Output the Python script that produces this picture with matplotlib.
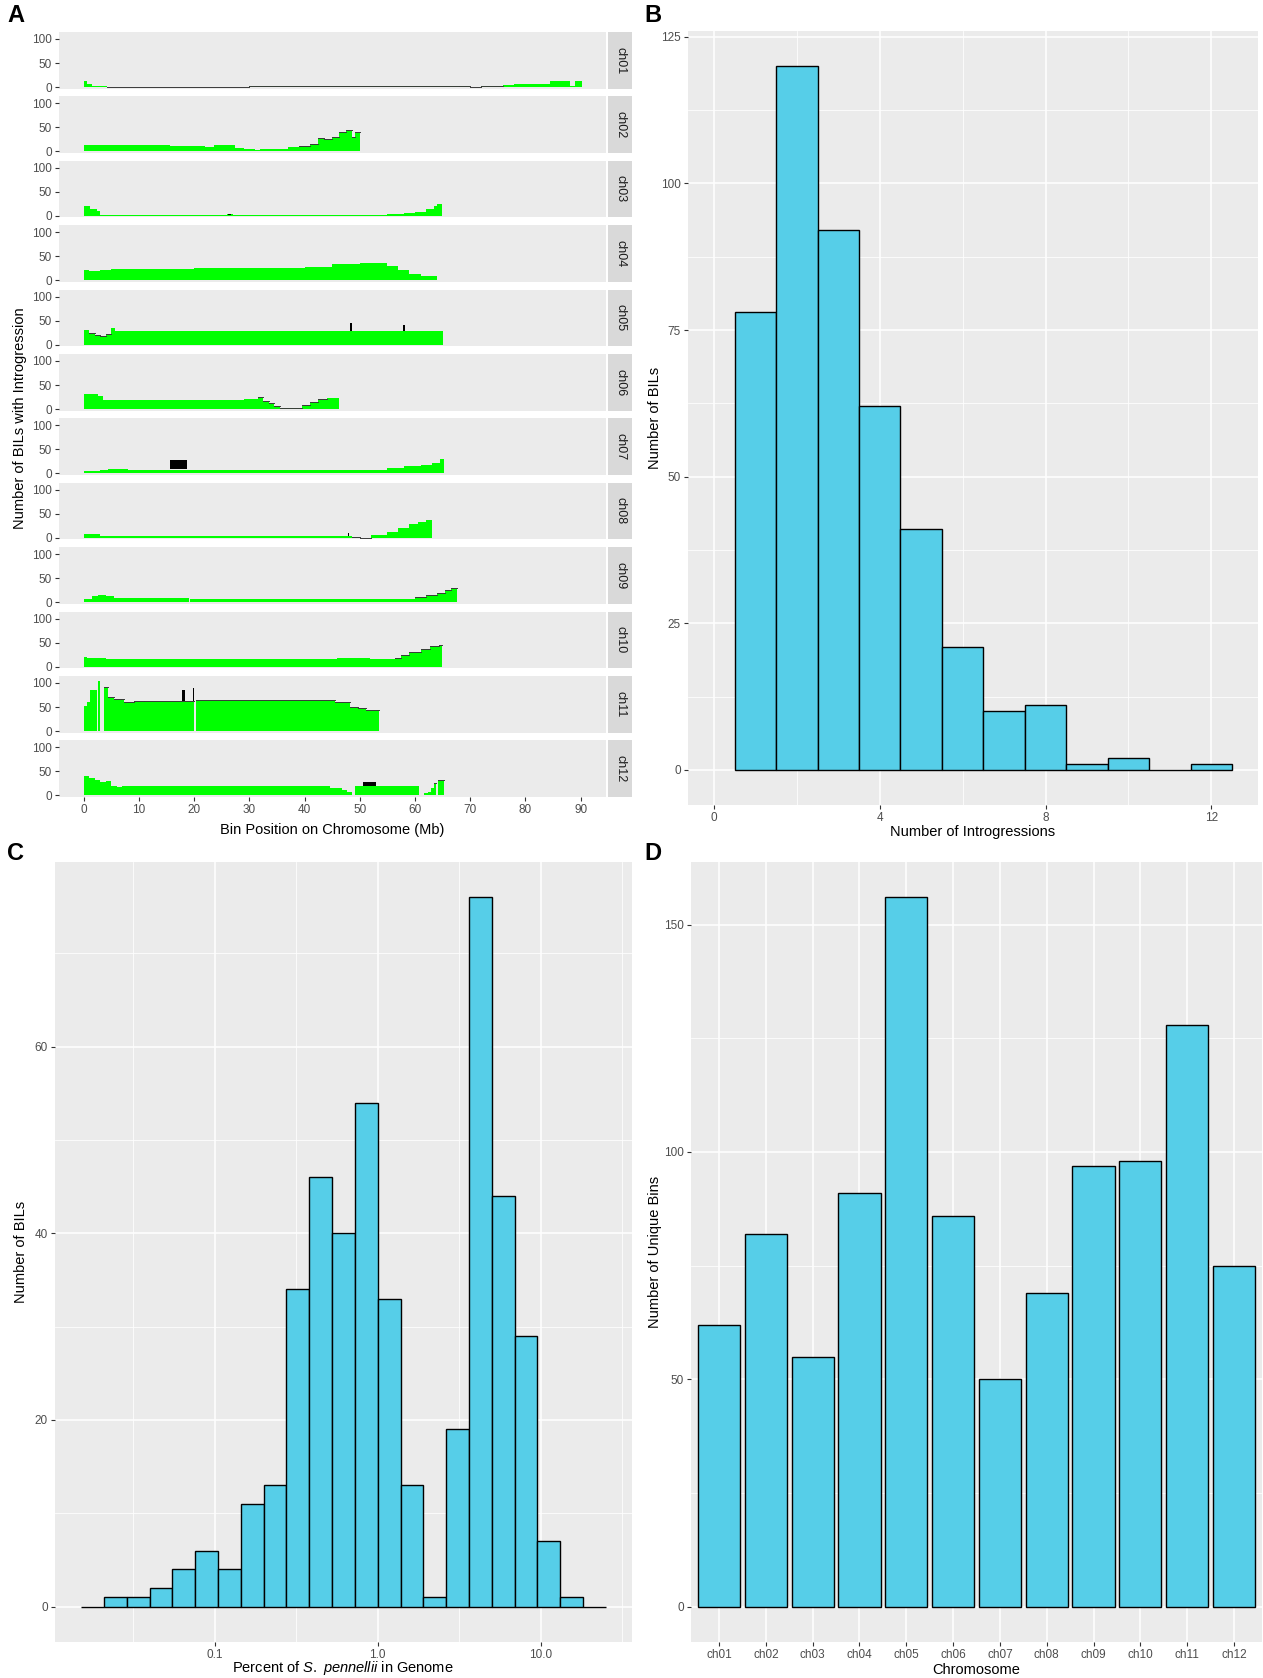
import numpy as np
import matplotlib as mpl
mpl.use('Agg')
from matplotlib import pyplot as plt

#%% Data
# panel A: (start Mb, end Mb, number of BILs)
ch01 = [(0, 0.5, 12), (0.5, 1.5, 7), (1.5, 4.2, 3), (4.2, 30, 1), (30, 68, 1.5), (68, 70, 2.5),
        (70, 72, 1), (72, 76, 1.5), (76, 78, 4), (78, 80, 6), (80, 83.5, 6), (83.5, 84.5, 7),
        (84.5, 86.5, 13), (86.5, 88, 12), (88, 89, 3), (89, 90.3, 13)]
ch02 = [(0, 15.7, 13), (15.7, 22, 11), (22, 23.6, 10), (23.6, 27.4, 13), (27.4, 29, 8), (29, 31, 6),
        (31, 32, 2), (32, 35, 5), (35, 37, 6), (37, 39, 9), (39, 41, 12), (41, 42.5, 15),
        (42.5, 43.5, 28), (43.5, 45, 25), (45, 46.3, 30), (46.3, 47.5, 40), (47.5, 48.6, 44),
        (48.6, 49.2, 30), (49.2, 50, 41)]
ch03 = [(0, 1.2, 20), (1.2, 2.4, 15), (2.4, 3, 10), (3, 26, 2), (26, 27, 3), (27, 55, 2),
        (55, 58, 3), (58, 60, 5), (60, 62, 9), (62, 63.5, 15), (63.5, 64, 20), (64, 64.8, 24)]
ch04 = [(0, 1, 22), (1, 3, 19), (3, 5, 21), (5, 20, 24), (20, 40, 25), (40, 45, 28), (45, 50, 33),
        (50, 55, 35), (55, 57, 30), (57, 59, 22), (59, 61, 14), (61, 64, 9)]
ch05 = [(0, 1, 30), (1, 2, 25), (2, 3, 21), (3, 4, 17), (4, 5, 22), (5, 5.6, 35), (5.6, 65, 29)]
ch06 = [(0, 2.5, 32), (2.5, 3.5, 28), (3.5, 29, 18), (29, 31.5, 20), (31.5, 32.5, 26),
        (32.5, 33.5, 17), (33.5, 34.5, 12), (34.5, 35.5, 6), (35.5, 39.5, 3), (39.5, 41, 8),
        (41, 42.5, 14), (42.5, 44, 20), (44, 46.2, 22)]
ch07 = [(0, 3, 5), (3, 4.3, 7), (4.3, 8, 10), (8, 55, 8), (55, 58, 12), (58, 61, 15), (61, 63, 18),
        (63, 64.5, 22), (64.5, 65.3, 31)]
ch08 = [(0, 3, 8), (3, 48.5, 3), (48.5, 50, 1), (50, 52, 0.5), (52, 55, 6), (55, 57, 12),
        (57, 59, 20), (59, 60.5, 28), (60.5, 62, 33), (62, 63.1, 38)]
ch09 = [(0, 1.5, 6), (1.5, 2.5, 12), (2.5, 4, 15), (4, 5.5, 12), (5.5, 19, 8), (19.3, 60, 6),
        (60, 62, 10), (62, 64, 15), (64, 65.5, 20), (65.5, 66.5, 25), (66.5, 67.6, 30)]
ch10 = [(0, 0.5, 21), (0.5, 4, 17), (4, 45.9, 16), (45.9, 51.9, 18), (51.9, 52.8, 16),
        (52.8, 56.4, 15), (56.4, 57.5, 18), (57.5, 59, 24), (59, 61, 30), (61, 62.7, 37),
        (62.7, 64.3, 44), (64.3, 64.9, 45)]
ch11 = [(0, 0.6, 53), (0.6, 1.2, 60), (1.2, 2.4, 85), (2.6, 3.0, 104), (3.6, 4.3, 92),
        (4.3, 5.5, 70), (5.5, 6.7, 67), (6.7, 7.3, 66), (7.3, 9.1, 60), (9.1, 10.9, 62),
        (10.9, 20.0, 63), (20.4, 45.5, 64), (45.5, 48.2, 60), (48.2, 49.7, 50), (49.7, 51.2, 48),
        (51.2, 53.4, 43)]
ch12 = [(0, 1, 40), (1, 2, 37), (2, 3, 33), (3, 4, 27), (4, 5, 30), (5, 6, 20), (6, 7, 18),
        (7, 44.6, 19), (44.6, 46.7, 16), (46.7, 47.6, 12), (47.6, 48.5, 8), (49.1, 60.8, 19),
        (61.7, 62.3, 5), (62.3, 62.9, 8), (62.9, 63.4, 15), (63.4, 63.8, 25), (64.1, 65.3, 33)]
chrom_names = ['ch01', 'ch02', 'ch03', 'ch04', 'ch05', 'ch06',
               'ch07', 'ch08', 'ch09', 'ch10', 'ch11', 'ch12']
chrom_data = [ch01, ch02, ch03, ch04, ch05, ch06, ch07, ch08, ch09, ch10, ch11, ch12]
# black bins (chrom, start, end, bottom, top)
black_bins = [('ch03', 26.2, 26.6, 2, 4), ('ch05', 48.3, 48.6, 29, 45), ('ch05', 57.8, 58.1, 29, 40),
              ('ch07', 15.7, 18.6, 9, 28), ('ch08', 47.8, 48.1, 3, 10),
              ('ch11', 17.8, 18.3, 63, 85), ('ch11', 19.8, 20.0, 63, 90), ('ch12', 50.6, 53.0, 20, 29)]
# stretches where the bin tops show a dark outline
outlined = {'ch01': (4.2, 76), 'ch02': (39, 50), 'ch05': (0.5, 5.5), 'ch06': (31, 45),
            'ch08': (48, 52), 'ch09': (60, 67.6), 'ch10': (56, 65), 'ch11': (3, 53.4),
            'ch12': (63, 65.3)}

# panel B
n_introgressions = [1, 2, 3, 4, 5, 6, 7, 8, 9, 10, 11, 12]
n_bils_intro = [78, 120, 92, 62, 41, 21, 10, 11, 1, 2, 0, 1]

# panel C: log10 bins
pct_bin_start = -1.82
pct_bin_width = 0.14
pct_counts = [0, 1, 1, 2, 4, 6, 4, 11, 13, 34, 46, 40, 54, 33, 13, 1, 19, 76, 44, 29, 7, 1, 0]

# panel D
unique_bins = [62, 82, 55, 91, 156, 86, 50, 69, 97, 98, 128, 75]

#%% Layout helpers
W, H = 1263, 1678
BLUE = '#56CEE8'
fig = plt.figure(figsize=(W / 100, H / 100), dpi=100)
plt.rcParams['font.family'] = ['Liberation Sans', 'DejaVu Sans']
plt.rcParams['mathtext.fontset'] = 'custom'
plt.rcParams['mathtext.rm'] = 'Liberation Sans'
plt.rcParams['mathtext.it'] = 'Liberation Sans:italic'


def box(l, t, r, b):
    return [l / W, 1 - b / H, (r - l) / W, (b - t) / H]


def ptext(x, y, s, **kw):
    fig.text(x / W, 1 - y / H, s, **kw)


def gg(ax, grid=True):
    ax.set_facecolor('#EBEBEB')
    for sp in ax.spines.values():
        sp.set_visible(False)
    ax.tick_params(which='major', color='#333333', labelcolor='#4D4D4D', length=3, width=0.8,
                   labelsize=8.5, pad=2)
    ax.tick_params(which='minor', length=0)
    if grid:
        ax.grid(which='major', color='white', lw=1.1)
        ax.grid(which='minor', color='white', lw=0.55)
    ax.set_axisbelow(True)


#%% Panel A
for i, (name, segs) in enumerate(zip(chrom_names, chrom_data)):
    top = 32 + i * 64.4
    ax = fig.add_axes(box(59, top, 606, top + 56.5))
    gg(ax, grid=False)
    starts = [s for s, e, n in segs]
    widths = [e - s for s, e, n in segs]
    counts = [n for s, e, n in segs]
    ax.bar(starts, counts, width=widths, align='edge', color='#00FF00', linewidth=0)
    if name in outlined:
        lo, hi = outlined[name]
        for s, e, n in segs:
            if s >= lo - 0.01 and e <= hi + 0.01:
                ax.plot([s, e], [n, n], color='#3A3A3A', lw=0.7)
    for c, s, e, b, t in black_bins:
        if c == name:
            ax.bar(s, t - b, width=e - s, bottom=b, align='edge', color='black', linewidth=0)
    ax.set_xlim(-4.5, 94.6)
    ax.set_ylim(-3, 114.5)
    ax.set_yticks([0, 50, 100])
    ax.set_xticks(range(0, 100, 10))
    if i < 11:
        ax.tick_params(axis='x', length=0, labelbottom=False)
    sax = fig.add_axes(box(608, top, 632, top + 56.5))
    sax.set_facecolor('#D9D9D9')
    sax.set_xticks([])
    sax.set_yticks([])
    for sp in sax.spines.values():
        sp.set_visible(False)
    sax.text(0.5, 0.5, name, rotation=270, ha='center', va='center', fontsize=9,
             color='#1A1A1A', transform=sax.transAxes)

ptext(332, 830, 'Bin Position on Chromosome (Mb)', ha='center', va='center', fontsize=10.5)
ptext(20, 418, 'Number of BILs with Introgression', ha='center', va='center', rotation=90,
      fontsize=10.5)

#%% Panel B
axB = fig.add_axes(box(688, 31, 1258, 805))
gg(axB)
axB.bar(n_introgressions, n_bils_intro, width=1, color=BLUE, edgecolor='black', linewidth=1)
axB.set_xlim(-0.625, 13.125)
axB.set_ylim(-6, 126)
axB.set_xticks([0, 4, 8, 12])
axB.set_xticks([2, 6, 10], minor=True)
axB.set_yticks([0, 25, 50, 75, 100, 125])
axB.set_yticks([12.5, 37.5, 62.5, 87.5, 112.5], minor=True)
ptext(973, 832, 'Number of Introgressions', ha='center', va='center', fontsize=10.5)
ptext(655, 418, 'Number of BILs', ha='center', va='center', rotation=90, fontsize=10.5)

#%% Panel C
axC = fig.add_axes(box(55, 862, 632, 1642))
gg(axC)
edges = 10 ** (pct_bin_start + pct_bin_width * np.arange(len(pct_counts) + 1))
axC.set_xscale('log')
axC.bar(edges[:-1], pct_counts, width=np.diff(edges), align='edge', color=BLUE,
        edgecolor='black', linewidth=1)
span = np.log10(edges[-1]) - np.log10(edges[0])
axC.set_xlim(10 ** (np.log10(edges[0]) - 0.05 * span), 10 ** (np.log10(edges[-1]) + 0.05 * span))
axC.set_ylim(-3.8, 79.8)
axC.set_xticks([0.1, 1, 10])
axC.set_xticklabels(['0.1', '1.0', '10.0'])
axC.set_xticks([10 ** -1.5, 10 ** -0.5, 10 ** 0.5, 10 ** 1.5], minor=True)
axC.xaxis.set_minor_formatter(mpl.ticker.NullFormatter())
axC.set_yticks([0, 20, 40, 60])
axC.set_yticks([10, 30, 50, 70], minor=True)
ptext(343, 1668, r'Percent of $\it{S.\ pennellii}$ in Genome', ha='center', va='center',
      fontsize=10.5)
ptext(21, 1252, 'Number of BILs', ha='center', va='center', rotation=90, fontsize=10.5)

#%% Panel D
axD = fig.add_axes(box(691, 862, 1262, 1642))
gg(axD)
xpos = np.arange(len(chrom_names))
axD.bar(xpos, unique_bins, width=0.9, color=BLUE, edgecolor='black', linewidth=1)
axD.set_xlim(-0.6, 11.6)
axD.set_ylim(-7.8, 163.8)
axD.set_xticks(xpos)
axD.set_xticklabels(chrom_names)
axD.set_yticks([0, 50, 100, 150])
axD.set_yticks([25, 75, 125], minor=True)
ptext(976, 1670, 'Chromosome', ha='center', va='center', fontsize=10.5)
ptext(655, 1252, 'Number of Unique Bins', ha='center', va='center', rotation=90, fontsize=10.5)

#%% Panel letters
for lab, x, y in [('A', 16, 15), ('B', 653, 15), ('C', 16, 853), ('D', 653, 853)]:
    ptext(x, y, lab, ha='center', va='center', fontsize=17, fontweight='bold')

fig.savefig('out.png', dpi=100)
